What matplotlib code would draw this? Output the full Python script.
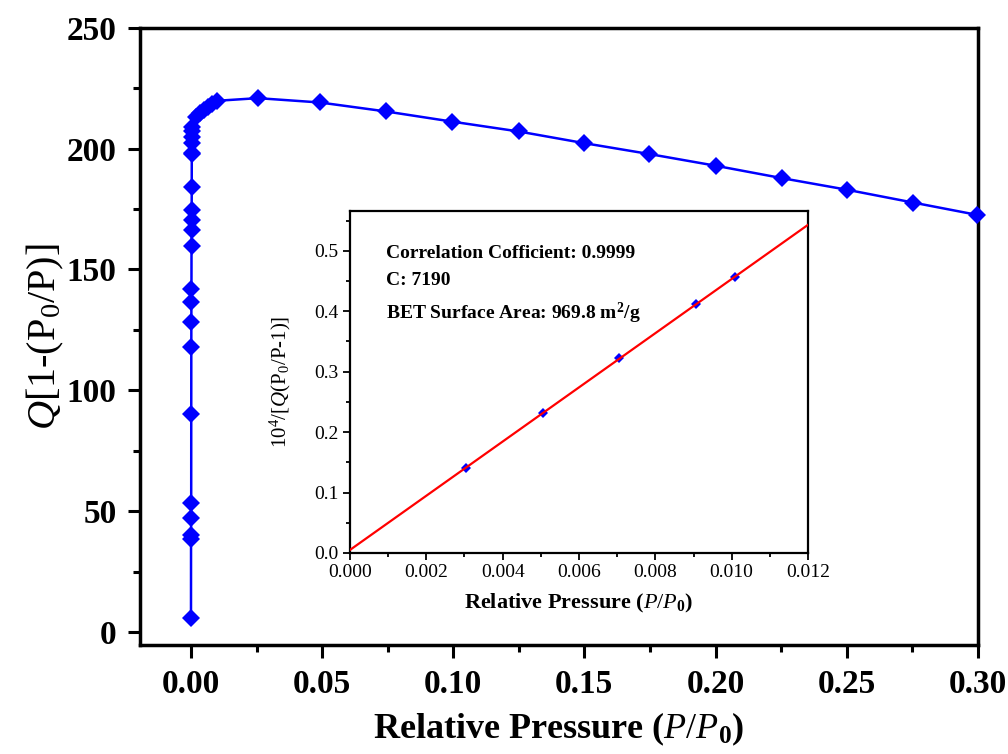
import numpy as np
import matplotlib
matplotlib.use("Agg")
from matplotlib import pyplot as plt
from matplotlib.ticker import MultipleLocator

plt.rcParams['font.family'] = ['Liberation Serif', 'DejaVu Serif']
plt.rcParams['mathtext.fontset'] = 'custom'
plt.rcParams['mathtext.rm'] = 'Liberation Serif'
plt.rcParams['mathtext.it'] = 'Liberation Serif:italic'
plt.rcParams['mathtext.bf'] = 'Liberation Serif:bold'

# Rouquerol plot: Q(1 - P/P0) against relative pressure
p_rel = [0.00000, 0.00002, 0.00004, 0.00006, 0.00008, 0.00010, 0.00012,
         0.00014, 0.00016, 0.00018, 0.00020, 0.00022, 0.00024, 0.00026,
         0.00028, 0.00030, 0.00032, 0.00034, 0.00036, 0.00040, 0.00050,
         0.0019, 0.0034, 0.0050, 0.0065, 0.0080, 0.0099,
         0.0255, 0.0492, 0.0743, 0.0995, 0.1250, 0.1498,
         0.1746, 0.2002, 0.2253, 0.2501, 0.2753, 0.2997]
q_term = [5.7, 38.5, 40.2, 47.1, 53.3, 90.2, 117.8,
          128.4, 136.7, 141.8, 159.8, 166.4, 170.5, 174.7,
          184.3, 197.8, 198.2, 202.3, 205.0, 207.1, 209.0,
          213.2, 214.8, 216.1, 217.3, 218.5, 219.8,
          220.9, 219.1, 215.4, 211.2, 207.1, 202.3,
          197.8, 192.9, 187.8, 183.0, 177.7, 172.6]

# BET linear range
bet_x = [0.00305, 0.00505, 0.00705, 0.00907, 0.01010]
bet_y = [0.141, 0.232, 0.322, 0.412, 0.457]

fig = plt.figure(figsize=(10.08, 7.54), dpi=100)
ax = fig.add_axes([0.139, 0.1446, 0.831, 0.8185])

ax.plot(p_rel, q_term, color='#0000ff', lw=1.8, marker='D', ms=9.5,
        markeredgewidth=0, clip_on=False, zorder=3)

ax.set_xlim(-0.0194, 0.30)
ax.set_ylim(-5.4, 250)
ax.xaxis.set_major_locator(MultipleLocator(0.05))
ax.xaxis.set_minor_locator(MultipleLocator(0.025))
ax.yaxis.set_major_locator(MultipleLocator(50))
ax.yaxis.set_minor_locator(MultipleLocator(25))
ax.tick_params(which='both', direction='out', top=False, right=False,
               width=2.2, labelsize=24, pad=8)
ax.tick_params(which='major', length=9)
ax.tick_params(which='minor', length=5)
ax.set_xticklabels([f'{v:.2f}' for v in ax.get_xticks()])
for lab in ax.get_xticklabels() + ax.get_yticklabels():
    lab.set_fontweight('bold')
for sp in ax.spines.values():
    sp.set_linewidth(2.5)

ax.set_xlabel(r'Relative Pressure ($\mathit{P/P}_{\mathbf{0}}$)',
              fontsize=26, fontweight='bold', labelpad=8)
ax.set_ylabel(r'$\mathit{Q}$[1-(P$_0$/P)]', fontsize=29)
ax.yaxis.set_label_coords(-0.088, 0.5)

# inset: BET fit
ins = fig.add_axes([0.3472, 0.2666, 0.4544, 0.4536])
coef = np.polyfit(bet_x, bet_y, 1)
fit_x = np.array([0.0, 0.012])
ins.plot(bet_x, bet_y, ls='none', marker='D', ms=5.5, color='#0000ff',
         markeredgewidth=0, zorder=2)
ins.plot(fit_x, np.polyval(coef, fit_x), color='#ff0000', lw=1.6, zorder=3)

ins.set_xlim(0, 0.012)
ins.set_ylim(0, 0.566)
ins.xaxis.set_major_locator(MultipleLocator(0.002))
ins.xaxis.set_minor_locator(MultipleLocator(0.001))
ins.yaxis.set_major_locator(MultipleLocator(0.1))
ins.yaxis.set_minor_locator(MultipleLocator(0.05))
ins.tick_params(which='both', direction='out', top=False, right=False,
                width=1.3, labelsize=14, pad=3)
ins.tick_params(which='major', length=5)
ins.tick_params(which='minor', length=3)
ins.set_xticklabels([f'{v:.3f}' for v in ins.get_xticks()])
ins.set_yticklabels([f'{v:.1f}' for v in ins.get_yticks()])
for sp in ins.spines.values():
    sp.set_linewidth(1.6)

ins.set_xlabel(r'Relative Pressure ($\mathit{P/P}_{\mathbf{0}}$)',
               fontsize=16, fontweight='bold', labelpad=8)
ins.set_ylabel(r'10$^4$/[$\mathit{Q}$(P$_0$/P-1)]', fontsize=15)
ins.yaxis.set_label_coords(-0.125, 0.5)

ins.text(0.079, 0.877, 'Correlation Cofficient: 0.9999', transform=ins.transAxes,
         fontsize=14, fontweight='bold', va='center')
ins.text(0.079, 0.798, 'C: 7190', transform=ins.transAxes,
         fontsize=14, fontweight='bold', va='center')
ins.text(0.079, 0.700, r'BET Surface Area: 969.8 m$^\mathbf{2}$/g',
         transform=ins.transAxes, fontsize=14, fontweight='bold', va='center')

fig.savefig('out.png', dpi=100)
